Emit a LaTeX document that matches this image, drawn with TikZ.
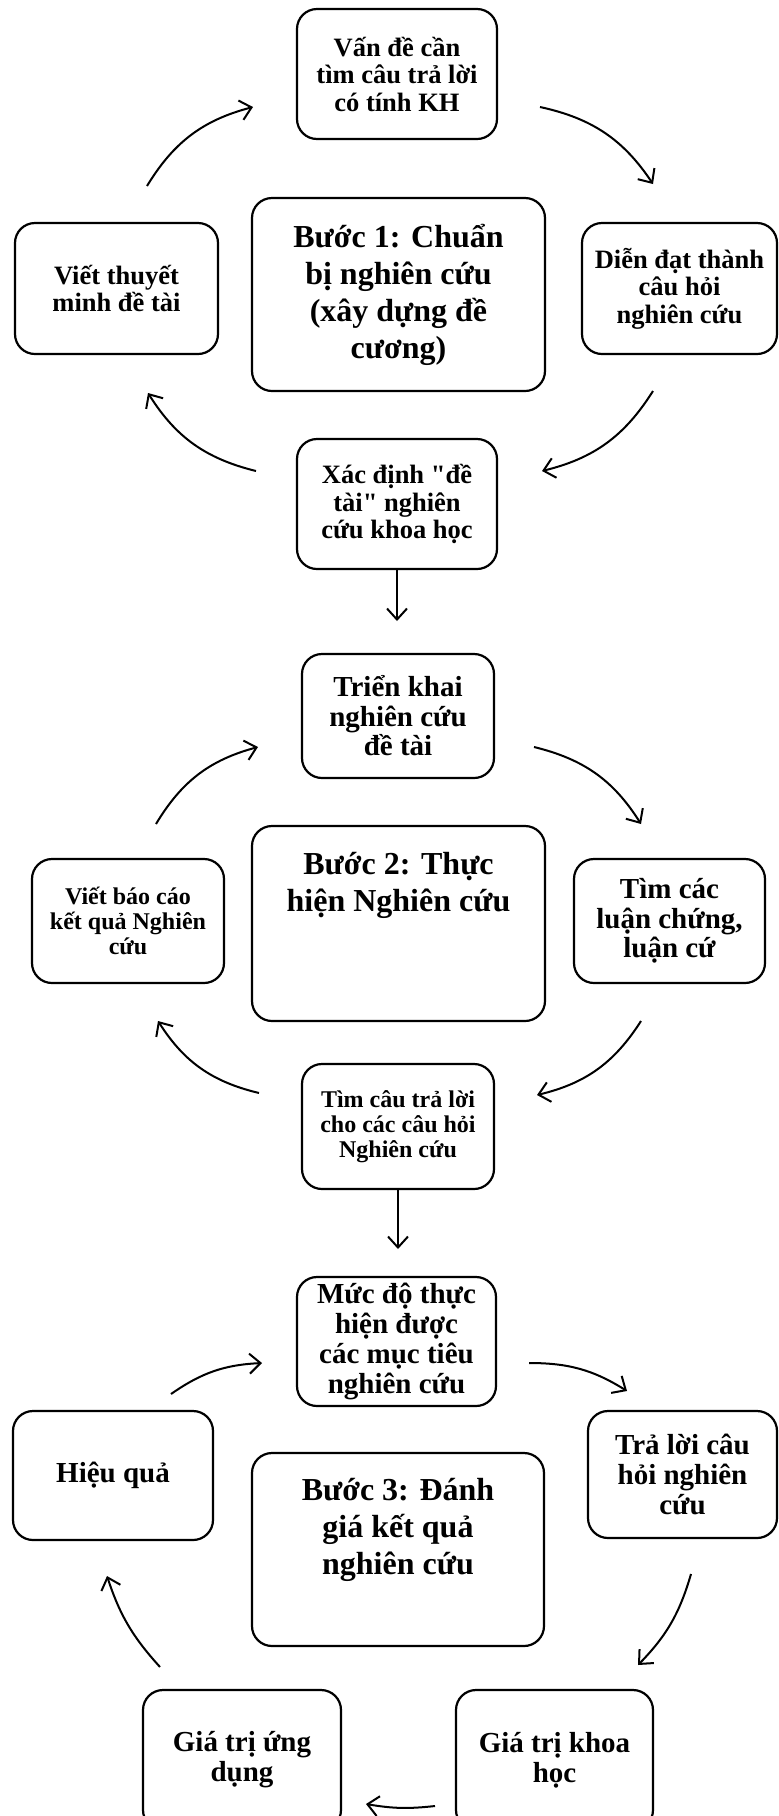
\documentclass[tikz,border=0pt]{standalone}
\usepackage{fontspec}
\newfontfamily\tnr{Liberation Serif}
\usetikzlibrary{arrows.meta}
\tikzset{
  box/.style={draw, line width=2.2pt, rounded corners=20pt, align=center, inner sep=0pt},
  fA/.style={font=\tnr\bfseries\fontsize{26.5}{27.5}\selectfont},
  fC/.style={font=\tnr\bfseries\fontsize{32}{37}\selectfont},
  fB/.style={font=\tnr\bfseries\fontsize{29}{29.5}\selectfont},
  fS/.style={font=\tnr\bfseries\fontsize{24}{25}\selectfont},
  fD/.style={font=\tnr\bfseries\fontsize{29}{30}\selectfont},
  flow/.style={line width=2pt, -{Straight Barb[length=11pt,width=20pt,line width=2pt]}},
}
\newcommand{\topbox}[1]{\parbox[c][170pt][t]{285pt}{\centering\vspace*{14pt}#1}}
\begin{document}
\begin{tikzpicture}[x=1pt,y=-1pt]
\useasboundingbox (0,0) rectangle (779,1816);
\fill[white] (0,0) rectangle (779,1816);
\clip (0,0) rectangle (779,1816);

% ---------- Step 1 ----------
\node[box,fA,minimum width=200pt,minimum height=130pt] (v1) at (397,74) {Vấn đề cần\\tìm câu trả lời\\có tính KH};
\node[box,fC,minimum width=293pt,minimum height=193pt] (c1) at (398.5,294.5) {Bước 1: Chuẩn\\bị nghiên cứu\\(xây dựng đề\\cương)};
\node[box,fA,minimum width=203pt,minimum height=131pt] (l1) at (116.5,288.5) {Viết thuyết\\minh đề tài};
\node[box,fA,minimum width=195pt,minimum height=131pt] (r1) at (679.5,288.5) {Diễn đạt thành\\câu hỏi\\nghiên cứu};
\node[box,fA,minimum width=200pt,minimum height=130pt] (b1) at (397,504) {Xác định "đề\\tài" nghiên\\cứu khoa học};

\coordinate (p1s) at (147,186); \coordinate (p1e) at (253,107);
\coordinate (p2s) at (540,107); \coordinate (p2e) at (653,184);
\coordinate (p3s) at (653,391); \coordinate (p3e) at (542,471);
\coordinate (p4s) at (256,471); \coordinate (p4e) at (148,393);
\coordinate (d1e) at (397,621);
\draw[flow] (p1s) to[bend left=22] (p1e);
\draw[flow] (p2s) to[bend left=22] (p2e);
\draw[flow] (p3s) to[bend left=22] (p3e);
\draw[flow] (p4s) to[bend left=22] (p4e);
\draw[flow] (b1.south) -- (b1.south |- d1e);

% ---------- Step 2 ----------
\node[box,fB,minimum width=192pt,minimum height=124pt] (t2) at (398,716) {Triển khai\\nghiên cứu\\đề tài};
\node[box,fC,minimum width=293pt,minimum height=195pt] (c2) at (398.5,923.5) {\topbox{Bước 2: Thực\\hiện Nghiên cứu}};
\node[box,fS,minimum width=192pt,minimum height=124pt] (l2) at (128,921) {Viết báo cáo\\kết quả Nghiên\\cứu};
\node[box,fB,minimum width=191pt,minimum height=124pt] (r2) at (669.5,921) {Tìm các\\luận chứng,\\luận cứ};
\node[box,fS,minimum width=192pt,minimum height=125pt] (b2) at (398,1126.5) {Tìm câu trả lời\\cho các câu hỏi\\Nghiên cứu};

\coordinate (q1s) at (156,824); \coordinate (q1e) at (258,747);
\coordinate (q2s) at (534,747); \coordinate (q2e) at (641,824);
\coordinate (q3s) at (641,1021); \coordinate (q3e) at (537,1095);
\coordinate (q4s) at (259,1093); \coordinate (q4e) at (158,1021);
\coordinate (d2e) at (401,1249);
\draw[flow] (q1s) to[bend left=22] (q1e);
\draw[flow] (q2s) to[bend left=22] (q2e);
\draw[flow] (q3s) to[bend left=22] (q3e);
\draw[flow] (q4s) to[bend left=22] (q4e);
\draw[flow] (b2.south) -- (b2.south |- d2e);

% ---------- Step 3 ----------
\node[box,fD,minimum width=199pt,minimum height=129pt] (t3) at (396.5,1341.5) {Mức độ thực\\hiện được\\các mục tiêu\\nghiên cứu};
\node[box,fC,minimum width=292pt,minimum height=193pt] (c3) at (398,1549.5) {\topbox{Bước 3: Đánh\\giá kết quả\\nghiên cứu}};
\node[box,fD,minimum width=189pt,minimum height=127pt] (r3) at (682.5,1474.5) {Trả lời câu\\hỏi nghiên\\cứu};
\node[box,fD,minimum width=200pt,minimum height=129pt] (l3) at (113,1475.5) {Hiệu quả};
\node[box,fD,minimum width=198pt,minimum height=140pt] (bl3) at (242,1760) {\raisebox{9pt}{\parbox{190pt}{\centering Giá trị ứng\\dụng}}};
\node[box,fD,minimum width=197pt,minimum height=140pt] (br3) at (554.5,1760) {\raisebox{9pt}{\parbox{190pt}{\centering Giá trị khoa\\học}}};

\coordinate (s1s) at (171,1394); \coordinate (s1e) at (262,1363);
\coordinate (s2s) at (529,1363); \coordinate (s2e) at (627,1391);
\coordinate (s3s) at (691,1574); \coordinate (s3e) at (638,1665);
\coordinate (s4s) at (435,1806); \coordinate (s4e) at (366,1804);
\coordinate (s5s) at (160,1667); \coordinate (s5e) at (107,1576);
\draw[flow] (s1s) to[bend left=16] (s1e);
\draw[flow] (s2s) to[bend left=16] (s2e);
\draw[flow] (s3s) to[bend left=14] (s3e);
\draw[flow] (s4s) to[bend left=8] (s4e);
\draw[flow] (s5s) to[bend left=12] (s5e);
\end{tikzpicture}
\end{document}
